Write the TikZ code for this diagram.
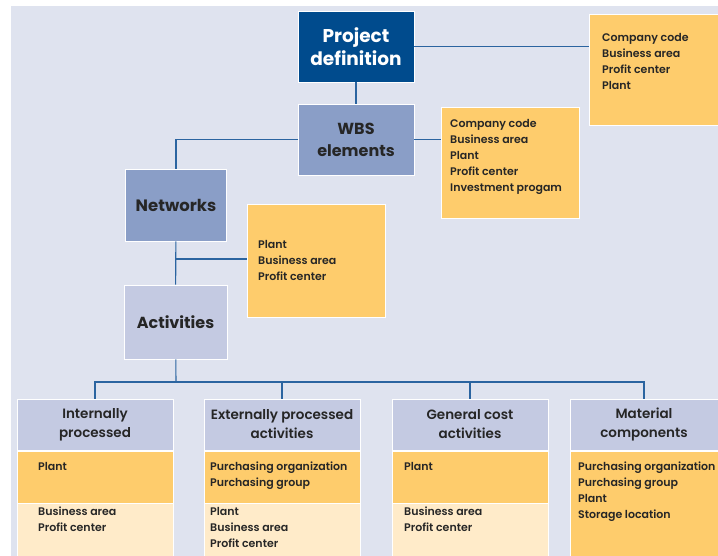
\documentclass[tikz,border=0pt]{standalone}
\usepackage{fontspec}
\setmainfont{Poppins}
\newfontfamily\semifont{Poppins SemiBold}
\definecolor{bgblue}{HTML}{DFE3EF}
\definecolor{darkblue}{HTML}{004B8D}
\definecolor{midblue}{HTML}{8A9EC7}
\definecolor{lightblue}{HTML}{C4CAE2}
\definecolor{sapyellow}{HTML}{FECC6C}
\definecolor{sapcream}{HTML}{FFEBC9}
\definecolor{linkblue}{HTML}{2B64A0}
\definecolor{inkgrey}{HTML}{262626}
\begin{document}
\begin{tikzpicture}[x=1pt,y=-1pt,
    box/.style={draw=white, line width=0.8pt, inner sep=0pt, align=center, text=inkgrey,
        font=\semifont\fontsize{13.5}{19}\selectfont},
    field/.style={draw=white, line width=0.8pt, inner sep=0pt},
    list/.style={inner sep=0pt, align=left, anchor=north west, text=inkgrey,
        font=\semifont\fontsize{11}{16}\selectfont},
    conn/.style={linkblue, line width=1.1pt}]
    \useasboundingbox (0,0) rectangle (718,556);
    \fill[bgblue] (11,6) rectangle (718,556);

    % main chain
    \node[box, fill=darkblue, text=white, minimum width=116, minimum height=71,
        font=\bfseries\fontsize{18.5}{23}\selectfont] (proj) at (356,46.5) {Project\\definition};
    \node[box, fill=midblue, minimum width=116, minimum height=71,
        font=\bfseries\fontsize{16}{22}\selectfont] (wbs) at (356,139.5) {WBS\\elements};
    \node[box, fill=midblue, minimum width=101, minimum height=72,
        font=\bfseries\fontsize{16.5}{18}\selectfont] (net) at (176,205) {Networks};
    \node[box, fill=lightblue, minimum width=103, minimum height=74,
        font=\bfseries\fontsize{16}{18}\selectfont] (act) at (175.5,322) {Activities};

    % assigned fields
    \node[field, fill=sapyellow, minimum width=129, minimum height=111] (yproj) at (653.5,69.5) {};
    \node[field, fill=sapyellow, minimum width=138, minimum height=111] (ywbs) at (510,162.5) {};
    \node[field, fill=sapyellow, minimum width=138, minimum height=113] (ynet) at (316,260.5) {};
    \node[list] (tproj) at (602,33) {Company code\\Business area\\Profit center\\Plant};
    \node[list] (twbs) at (450,119) {Company code\\Business area\\Plant\\Profit center\\Investment progam};
    \node[list] (tnet) at (258,240) {Plant\\Business area\\Profit center};

    \draw[conn] (proj) -- (wbs);
    \draw[conn] (proj.east) -- (proj.east -| yproj.west);
    \draw[conn] (wbs.east) -- (wbs.east -| ywbs.west);
    \draw[conn] (wbs.west) -| (net.north);
    \draw[conn] (net) -- (act);
    \coordinate (fork) at (176,259);
    \draw[conn] (fork) -- (fork -| ynet.west);

    % activity types
    \node[box, fill=lightblue, minimum width=156, minimum height=51] (hint) at (95,424.5) {Internally\\processed};
    \node[box, fill=lightblue, minimum width=156, minimum height=51] (hext) at (282,424.5) {Externally processed\\activities};
    \node[box, fill=lightblue, minimum width=156, minimum height=51] (hgen) at (470,424.5) {General cost\\activities};
    \node[box, fill=lightblue, minimum width=148, minimum height=51] (hmat) at (644,424.5) {Material\\components};

    \node[field, fill=sapyellow, minimum width=156, minimum height=52] (oint) at (95,477) {};
    \node[field, fill=sapyellow, minimum width=156, minimum height=52] (oext) at (282,477) {};
    \node[field, fill=sapyellow, minimum width=156, minimum height=52] (ogen) at (470,477) {};
    \node[field, fill=sapyellow, minimum width=148, minimum height=105] (omat) at (644,503.5) {};
    \node[field, fill=sapcream, minimum width=156, minimum height=53] (cint) at (95,529.5) {};
    \node[field, fill=sapcream, minimum width=156, minimum height=53] (cext) at (282,529.5) {};
    \node[field, fill=sapcream, minimum width=156, minimum height=53] (cgen) at (470,529.5) {};

    \node[list] (toint) at (38,462) {Plant};
    \node[list] (tcint) at (38,507) {Business area\\Profit center};
    \node[list] (toext) at (210,462) {Purchasing organization\\Purchasing group};
    \node[list] (tcext) at (210,507) {Plant\\Business area\\Profit center};
    \node[list] (togen) at (404,462) {Plant};
    \node[list] (tcgen) at (404,507) {Business area\\Profit center};
    \node[list] (tomat) at (578,462) {Purchasing organization\\Purchasing group\\Plant\\Storage location};

    \coordinate (bar) at (176,382);
    \draw[conn] (act) -- (bar);
    \draw[conn] (hint.north) |- (bar) -| (hmat.north);
    \draw[conn] (hext.north) -- (hext.north |- bar);
    \draw[conn] (hgen.north) -- (hgen.north |- bar);
\end{tikzpicture}
\end{document}
